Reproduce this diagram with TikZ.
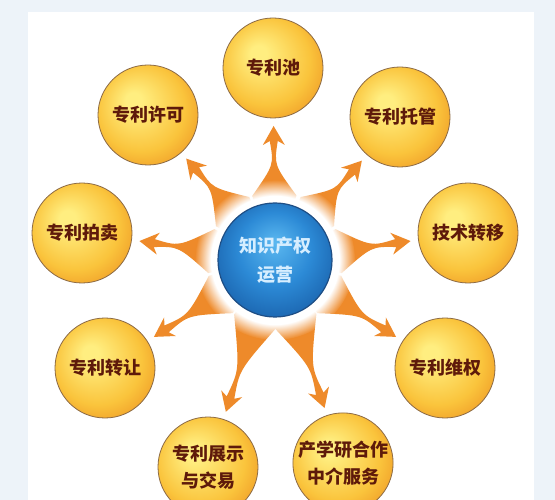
\documentclass[tikz,border=0pt]{standalone}
\usepackage{fontspec}
\newfontfamily\cjk{Noto Sans CJK SC}
\usetikzlibrary{calc,fadings,backgrounds}

\definecolor{framefill}{HTML}{EDF3F9}
\definecolor{gold1}{HTML}{FFEE80}
\definecolor{gold2}{HTML}{FAC43C}
\definecolor{gold3}{HTML}{EE9624}
\definecolor{ballline}{HTML}{8C6A45}
\definecolor{balltext}{HTML}{5E1A0A}
\definecolor{blue1}{HTML}{5BB8F0}
\definecolor{blue2}{HTML}{2C8AD6}
\definecolor{blue3}{HTML}{1A62AC}
\definecolor{hubline}{HTML}{1E4E85}
\definecolor{hubtext}{HTML}{D6EEFF}
\definecolor{spikeorange}{HTML}{EE8A2A}

\pgfdeclareradialshading{goldball}{\pgfpoint{-8bp}{8bp}}{color(0bp)=(gold1); color(4bp)=(gold1); color(22bp)=(gold2); color(33bp)=(gold3); color(40bp)=(gold3)}
\pgfdeclareradialshading{blueball}{\pgfpoint{0bp}{8bp}}{color(0bp)=(blue1); color(16bp)=(blue2); color(30bp)=(blue3); color(40bp)=(blue3)}

\begin{document}
\begin{tikzpicture}[x=1pt,y=-1pt,
    ball/.style={circle,draw=ballline,line width=0.8pt,shading=goldball,minimum size=100pt,inner sep=0pt,
      font=\cjk\bfseries\fontsize{18}{27}\selectfont,text=balltext,align=center},
    hub/.style={circle,draw=hubline,line width=1.2pt,shading=blueball,minimum size=114pt,inner sep=0pt,
      font=\cjk\bfseries\fontsize{18}{29}\selectfont,text=hubtext,align=center},
    spike/.style={fill=spikeorange}]
  \useasboundingbox (0,0) rectangle (555,500);

  \node[hub] (hub) at (275,260) {知识产权\\运营};
  \node[ball] (pool) at (273,68) {专利池};
  \node[ball] (trust) at (400,117) {专利托管};
  \node[ball] (transfer) at (468,233) {技术转移};
  \node[ball] (defend) at (445,368) {专利维权};
  \node[ball] (coop) at (343,463) {产学研合作\\中介服务};
  \node[ball] (show) at (208,467) {专利展示\\与交易};
  \node[ball] (assign) at (105,368) {专利转让};
  \node[ball] (auction) at (82,233) {专利拍卖};
  \node[ball] (licence) at (148,115) {专利许可};

  \begin{scope}[on background layer]
    \fill[framefill] (0,0) rectangle (555,500);
    \fill[white] (28,12) rectangle (534,500);
    \foreach \n in {pool,trust,transfer,defend,coop,show,assign,auction,licence}{
      \coordinate (tip) at ($(\n.center)!58pt!(hub.center)$);
      \coordinate (neck) at ($(\n.center)!73pt!(hub.center)$);
      \coordinate (barb) at ($(\n.center)!77pt!(hub.center)$);
      \fill[spike] ($(hub.center)!68pt!19:(\n.center)$) .. controls ($(hub.center)!0.8!(neck)$) .. ($(neck)!4pt!90:(tip)$)
        -- ($(barb)!11pt!90:(tip)$) -- (tip) -- ($(barb)!11pt!-90:(tip)$) -- ($(neck)!4pt!-90:(tip)$)
        .. controls ($(hub.center)!0.8!(neck)$) .. ($(hub.center)!68pt!-19:(\n.center)$) -- (hub.center) -- cycle;
    }
    \fill[white,path fading=circle with fuzzy edge 20 percent] (hub.center) circle[radius=80pt];
  \end{scope}
\end{tikzpicture}
\end{document}
